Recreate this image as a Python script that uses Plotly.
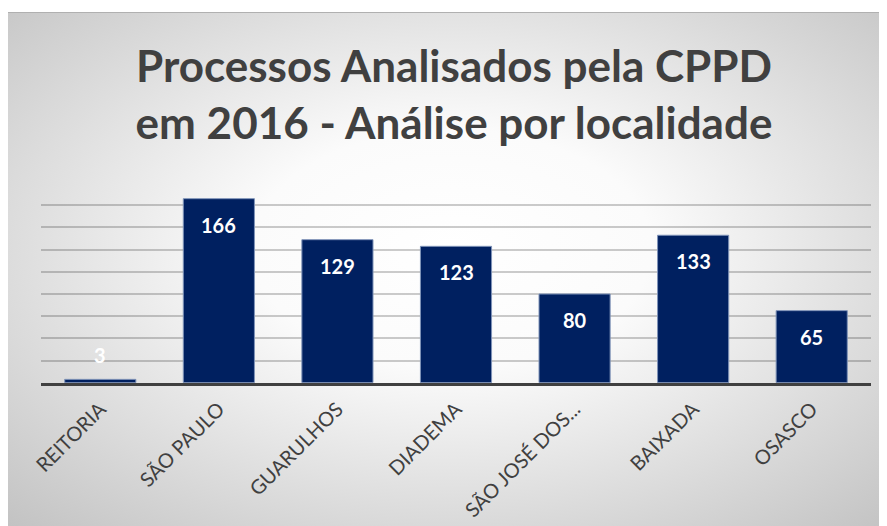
import base64
import plotly.graph_objects as go

# ---- data ----
categories = ["REITORIA", "SÃO PAULO", "GUARULHOS", "DIADEMA", "SÃO JOSÉ DOS...", "BAIXADA", "OSASCO"]
values = [3, 166, 129, 123, 80, 133, 65]
title_text = "Processos Analisados pela CPPD<br>em 2016 - Análise por localidade"

W, H = 887, 526
OFF = 8  # page body margin

# radial gradient background as SVG
fw, fh = W, H
svg = f'''<svg xmlns="http://www.w3.org/2000/svg" width="{fw}" height="{fh}" viewBox="0 0 {fw} {fh}" preserveAspectRatio="none">
<defs><radialGradient id="g" cx="0.5" cy="0.45" r="0.75" fx="0.5" fy="0.45">
<stop offset="0" stop-color="#ffffff"/>
<stop offset="0.3" stop-color="#fbfbfb"/>
<stop offset="1" stop-color="#c0c0c0"/>
</radialGradient></defs>
<rect x="0" y="0" width="{fw}" height="{fh}" fill="url(#g)"/>
<line x1="0" y1="0.5" x2="{fw}" y2="0.5" stroke="#b0b0b0" stroke-width="1"/>
</svg>'''
src = "data:image/svg+xml;base64," + base64.b64encode(svg.encode()).decode()

fig = go.Figure()
fig.add_trace(go.Bar(
    x=categories, y=values, width=0.6,
    marker=dict(color="#002060", line=dict(color="#7f93b8", width=1)),
    hoverinfo="x+y",
))

anns = []
for c, v in zip(categories, values):
    if v >= 20:
        anns.append(dict(x=c, y=v, xref="x", yref="y", text=f"<b>{v}</b>", showarrow=False,
                         yanchor="top", yshift=-12,
                         font=dict(family="Lato", size=20, color="#ffffff")))
    else:
        anns.append(dict(x=c, y=v, xref="x", yref="y", text=f"<b>{v}</b>", showarrow=False,
                         yanchor="bottom", yshift=10,
                         font=dict(family="Lato", size=20, color="#ffffff")))

x0, x1 = (41 - OFF) / W, (871 - OFF) / W
y0, y1 = 1 - (382.7 - OFF) / H, 1 - (182.7 - OFF) / H

fig.update_layout(
    width=W, height=H,
    margin=dict(l=0, r=0, t=0, b=0),
    paper_bgcolor="#ffffff",
    plot_bgcolor="rgba(0,0,0,0)",
    showlegend=False,
    title=dict(text=f"<b>{title_text}</b>", x=(454 - OFF) / W, xanchor="center",
               y=1 - (81.5 - OFF) / H, yanchor="middle",
               font=dict(family="Lato", size=44, color="#404040")),
    images=[dict(source=src, xref="paper", yref="paper", x=0, y=1 - (12 - OFF) / H,
                 sizex=fw / W, sizey=fh / H, xanchor="left", yanchor="top",
                 sizing="stretch", layer="below")],
    annotations=anns,
    xaxis=dict(domain=[x0, x1], showgrid=False, showline=True, linecolor="#404040", linewidth=3,
               tickangle=-45, tickfont=dict(family="Lato", size=20, color="#404040"),
               ticks="", ticklabelstandoff=4, automargin=False),
    yaxis=dict(domain=[y0, y1], range=[0, 180.4], tickvals=[20, 40, 60, 80, 100, 120, 140, 160, 180],
               showgrid=True, gridcolor="rgba(0,0,0,0.2)", gridwidth=1.5, showticklabels=False,
               zeroline=False, showline=False, ticks="", automargin=False),
    bargap=0.4,
)

fig.write_html("out.html")
